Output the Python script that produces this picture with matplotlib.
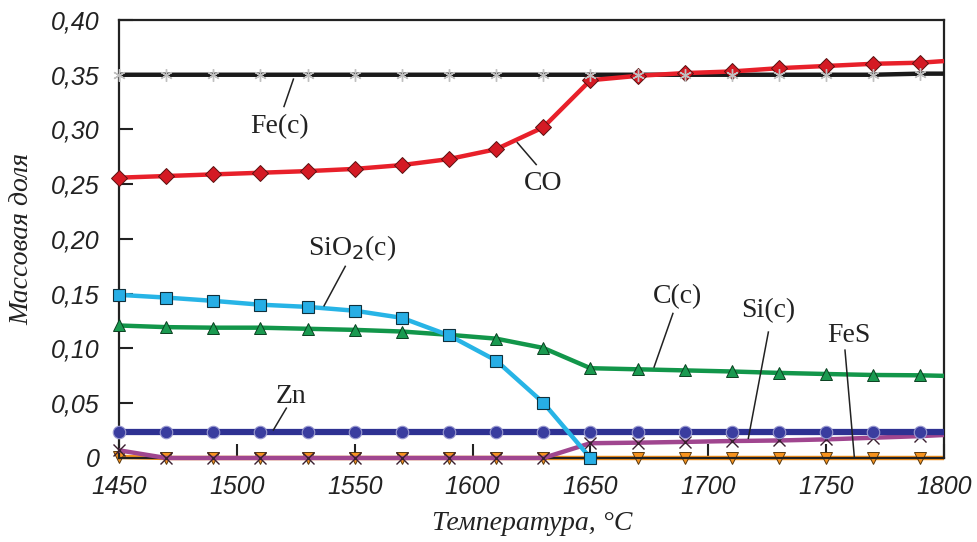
import numpy as np
import matplotlib
matplotlib.use("Agg")
import matplotlib.pyplot as plt
from matplotlib.ticker import FixedLocator, FixedFormatter

# температуры: маркеры через 20 °C, линия доходит до 1800
temps = [1450, 1470, 1490, 1510, 1530, 1550, 1570, 1590, 1610, 1630,
         1650, 1670, 1690, 1710, 1730, 1750, 1770, 1790, 1800]

fe = [0.350, 0.350, 0.350, 0.350, 0.350, 0.350, 0.350, 0.350, 0.350, 0.350,
      0.350, 0.350, 0.350, 0.350, 0.350, 0.350, 0.350, 0.351, 0.351]
co = [0.256, 0.2575, 0.259, 0.2605, 0.262, 0.264, 0.2675, 0.273, 0.282, 0.302,
      0.345, 0.349, 0.3515, 0.353, 0.356, 0.358, 0.360, 0.361, 0.3625]
sio2 = [0.149, 0.1465, 0.1435, 0.140, 0.138, 0.1345, 0.128, 0.112, 0.089, 0.0505,
        0.0, None, None, None, None, None, None, None, None]
c_c = [0.121, 0.1195, 0.119, 0.119, 0.118, 0.117, 0.1155, 0.1125, 0.109, 0.1005,
       0.082, 0.081, 0.080, 0.079, 0.0777, 0.0767, 0.0758, 0.0755, 0.075]
zn = [0.024] * 19
si = [0.007, 0.0, 0.0, 0.0, 0.0, 0.0, 0.0, 0.0, 0.0, 0.0,
      0.0135, 0.014, 0.0147, 0.0155, 0.016, 0.017, 0.0185, 0.020, 0.021]
fes = [0.001, 0.0, 0.0, 0.0, 0.0, 0.0, 0.0, 0.0, 0.0, 0.0,
       0.0, 0.0, 0.0, 0.0, 0.0, 0.0, 0.0, 0.0, 0.0]

yticks = [0, 0.05, 0.10, 0.15, 0.20, 0.25, 0.30, 0.35, 0.40]
ytick_labels = ["0", "0,05", "0,10", "0,15", "0,20", "0,25", "0,30", "0,35", "0,40"]
xticks = [1450, 1500, 1550, 1600, 1650, 1700, 1750, 1800]

# подписи кривых: текст (x, y), выноска от (x1, y1) к (x2, y2)
labels = [
    ("Fe(c)", 1518, 0.303, 1520, 0.321, 1524, 0.346),
    ("CO", 1630, 0.251, 1627, 0.268, 1619, 0.288),
    ("SiO$_2$(c)", 1549, 0.192, 1546, 0.175, 1537, 0.139),
    ("C(c)", 1687, 0.147, 1685, 0.132, 1677, 0.083),
    ("Si(c)", 1725.5, 0.135, 1725.5, 0.115, 1717, 0.018),
    ("FeS", 1759.5, 0.112, 1758, 0.0985, 1762, 0.0),
    ("Zn", 1523, 0.056, 1521, 0.0455, 1515.5, 0.0256),
]

fig = plt.figure(figsize=(9.77, 5.42), dpi=100)
ax = fig.add_axes([0.1218, 0.155, 0.8444, 0.8081])

t = np.array(temps)
mk = list(range(len(temps) - 1))   # маркеры без конечной точки 1800

def arr(v):
    return np.array([np.nan if a is None else a for a in v], dtype=float)

common = dict(clip_on=False, solid_capstyle="butt")
ax.plot(t, arr(fes), color="#f7931e", lw=3.2, marker="v", ms=9, mfc="#f7931e",
        mec="#5a3a10", mew=0.7, markevery=mk, zorder=2, **common)
ax.plot(t, arr(si), color="#a0468f", lw=3.2, marker="x", ms=8, mec="#3a2030",
        mew=1.0, markevery=mk, zorder=3, **common)
ax.plot(t, arr(zn), color="#2e3192", lw=4.5, marker="o", ms=9, mfc="#3a3d9f",
        mec="#9a9ad0", mew=0.8, markevery=mk, zorder=4, **common)
ax.plot(t, arr(c_c), color="#12964a", lw=3.2, marker="^", ms=9, mfc="#1a9a50",
        mec="#0a4020", mew=0.7, markevery=mk, zorder=5, **common)
ax.plot(t, arr(sio2), color="#27b4e6", lw=3.2, marker="s", ms=9, mfc="#27aee5",
        mec="#10303c", mew=0.8, markevery=list(range(11)), zorder=6, **common)
ax.plot(t, arr(co), color="#e8202a", lw=3.2, marker="D", ms=8, mfc="#d41a24",
        mec="#5a1010", mew=0.7, markevery=mk, zorder=7, **common)
ax.plot(t, arr(fe), color="#1a1a1a", lw=3.2, zorder=6.5, solid_capstyle="butt")
ax.plot(t[:-1], arr(fe)[:-1], ls="none", marker=(6, 2, 0), ms=9, mec="#c0c0c0",
        mew=1.0, zorder=8, clip_on=False)

for txt, tx, ty, x1, y1, x2, y2 in labels:
    ax.text(tx, ty, txt, ha="center", va="center", fontsize=20,
            family="Liberation Serif", color="#222222", zorder=10)
    ax.plot([x1, x2], [y1, y2], color="#222222", lw=1.1, zorder=9)

ax.set_xlim(1450, 1800)
ax.set_ylim(0, 0.40)
ax.yaxis.set_major_locator(FixedLocator(yticks))
ax.yaxis.set_major_formatter(FixedFormatter(ytick_labels))
ax.set_xticks(xticks)
ax.tick_params(direction="in", length=10, width=1.5, colors="#222222",
               labelsize=18, top=False, right=False)
ax.tick_params(axis="y", pad=14)
ax.tick_params(axis="x", pad=12)
for lab in ax.get_xticklabels() + ax.get_yticklabels():
    lab.set_family("Liberation Sans")
    lab.set_style("italic")
for s in ax.spines.values():
    s.set_linewidth(1.6)
    s.set_color("#222222")

fig.text(0.545, 0.035, "Температура, °C", ha="center", va="center",
         fontsize=20, family="Liberation Serif", style="italic", color="#222222")
fig.text(0.022, 0.56, "Массовая доля", ha="center", va="center", rotation=90,
         fontsize=20, family="Liberation Serif", style="italic", color="#222222")

fig.savefig("out.png", dpi=100)
